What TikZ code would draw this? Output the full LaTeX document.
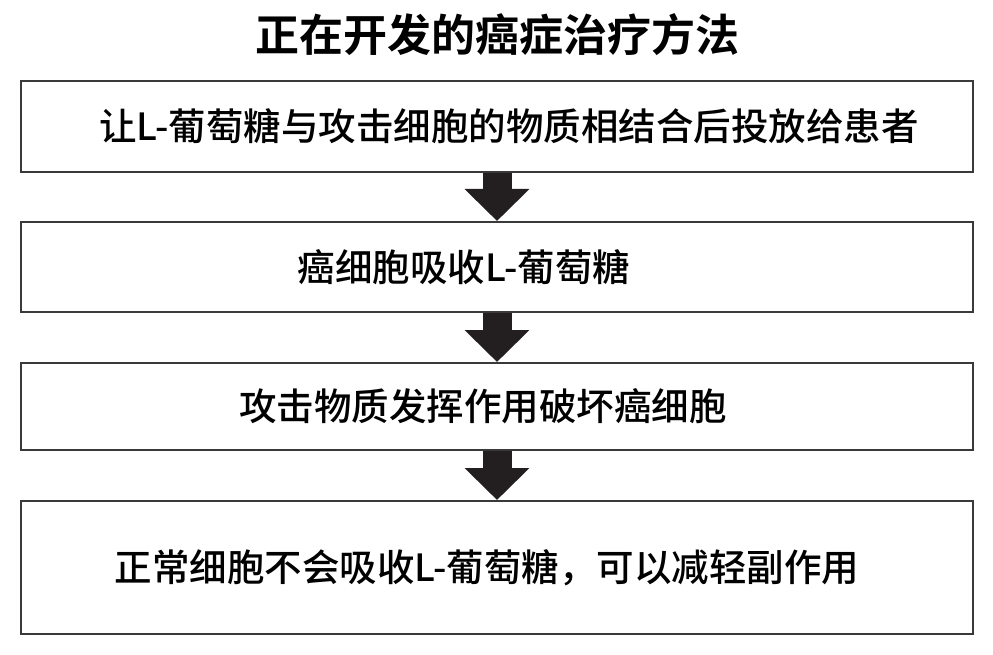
\documentclass[tikz,border=0pt]{standalone}
\usepackage{fontspec}
\usetikzlibrary{arrows.meta}
\newfontfamily\cjkbody{Noto Sans CJK SC Medium}
\newfontfamily\cjktitle{Noto Sans CJK SC Bold}
\definecolor{boxline}{HTML}{3A3A3A}
\definecolor{arrowfill}{HTML}{231F20}
\tikzset{
  stepbox/.style={draw=boxline, line width=2pt, minimum width=952pt, inner sep=0pt, font=\cjkbody\fontsize{37.5pt}{40pt}\selectfont, text=black},
  flowarrow/.style={draw=arrowfill, line width=29pt, -{Triangle[length=32pt,width=63pt]}, color=arrowfill}
}
\begin{document}
\begin{tikzpicture}[x=1pt,y=-1pt]
\useasboundingbox (0,0) rectangle (993,655);
\node (title) at (497,35) {\cjktitle\fontsize{44pt}{48pt}\selectfont 正在开发的癌症治疗方法};
\node[stepbox, minimum height=91pt] (b1) at (497,126.5) {\kern24pt 让L-葡萄糖与攻击细胞的物质相结合后投放给患者};
\node[stepbox, minimum height=90pt] (b2) at (497,267) {癌细胞吸收L-葡萄糖\kern66pt};
\node[stepbox, minimum height=87pt] (b3) at (497,406.5) {攻击物质发挥作用破坏癌细胞\kern28pt};
\node[stepbox, minimum height=133pt] (b4) at (497,567.5) {\raisebox{4pt}{正常细胞不会吸收L-葡萄糖，可以减轻副作用}\kern20pt};
\draw[flowarrow] (b1.south) -- (b2.north);
\draw[flowarrow] (b2.south) -- (b3.north);
\draw[flowarrow] (b3.south) -- (b4.north);
\end{tikzpicture}
\end{document}
